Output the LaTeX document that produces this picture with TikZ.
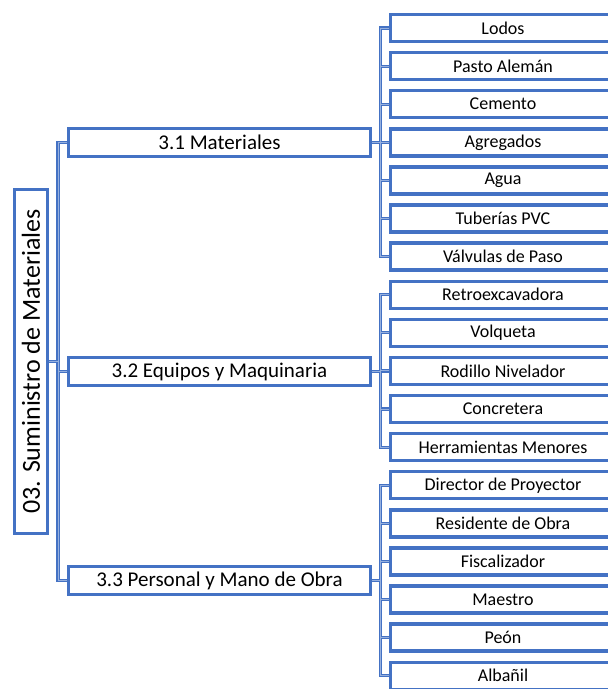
\documentclass[tikz,border=0pt]{standalone}
\usepackage{fontspec}
\setmainfont{Carlito}
\usetikzlibrary{backgrounds}
\definecolor{boxblue}{RGB}{68,114,196}
\definecolor{wirefill}{RGB}{150,176,222}

% all connector paths; drawn twice (outline pass, then inner pass)
\newcommand\treewires[1]{%
  % level 1: root -> branches
  \draw[#1] (m1.center) -- (m1.center -| trunk) -- (m3.center -| trunk) -- (m3.center);
  \draw[#1] (m2.center) -- (m2.center -| trunk);
  \draw[#1] (root.center) -- (root.center -| trunk);
  % level 2: branches -> leaves
  \draw[#1] (l0.center) -- (l0.center -| bus) -- (l6.center -| bus) -- (l6.center);
  \draw[#1] (l7.center) -- (l7.center -| bus) -- (l11.center -| bus) -- (l11.center);
  \draw[#1] (l12.center) -- (l12.center -| bus) -- (l17.center -| bus) -- (l17.center);
  \foreach \k in {1,...,5,8,9,10,13,14,15,16}
    \draw[#1] (l\k.center) -- (l\k.center -| bus);
  \foreach \k in {1,2,3}
    \draw[#1] (m\k.center) -- (m\k.center -| bus);
}

\begin{document}
\begin{tikzpicture}[x=1pt,y=-1pt,
  box/.style={draw=boxblue, line width=3.4pt, fill=white, inner sep=0pt, text=black},
  leaf/.style={box, minimum width=225pt, minimum height=27pt, font=\fontsize{18}{20}\selectfont},
  branch/.style={box, minimum width=302pt, minimum height=28pt, font=\fontsize{21}{24}\selectfont},
  rootbox/.style={box, rotate=90, minimum width=344pt, minimum height=33pt, font=\fontsize{26}{30}\selectfont},
  wireout/.style={draw=boxblue, line width=3.2pt},
  wirein/.style={draw=wirefill, line width=0.9pt}]
  \clip (0,0) rectangle (608,689);

  \coordinate (trunk) at (58,0);
  \coordinate (bus) at (380.5,0);

  % root
  \node[rootbox] (root) at (31,361.5) {03. Suministro de Materiales};

  % branches
  \node[branch] (m1) at (219.5,142.3) {3.1 Materiales};
  \node[branch] (m2) at (219.5,371.5) {3.2 Equipos y Maquinaria};
  \node[branch] (m3) at (219.5,580.5) {3.3 Personal y Mano de Obra};

  % leaves
  \foreach \t [count=\i from 0] in {Lodos, Pasto Alemán, Cemento, Agregados, Agua,
      Tuberías PVC, Válvulas de Paso, Retroexcavadora, Volqueta, Rodillo Nivelador,
      Concretera, Herramientas Menores, Director de Proyector, Residente de Obra,
      Fiscalizador, Maestro, Peón, Albañil}
    \node[leaf] (l\i) at (503, 28+38.1*\i) {\t};

  \begin{scope}[on background layer]
    \treewires{wireout}
    \treewires{wirein}
  \end{scope}
\end{tikzpicture}
\end{document}
